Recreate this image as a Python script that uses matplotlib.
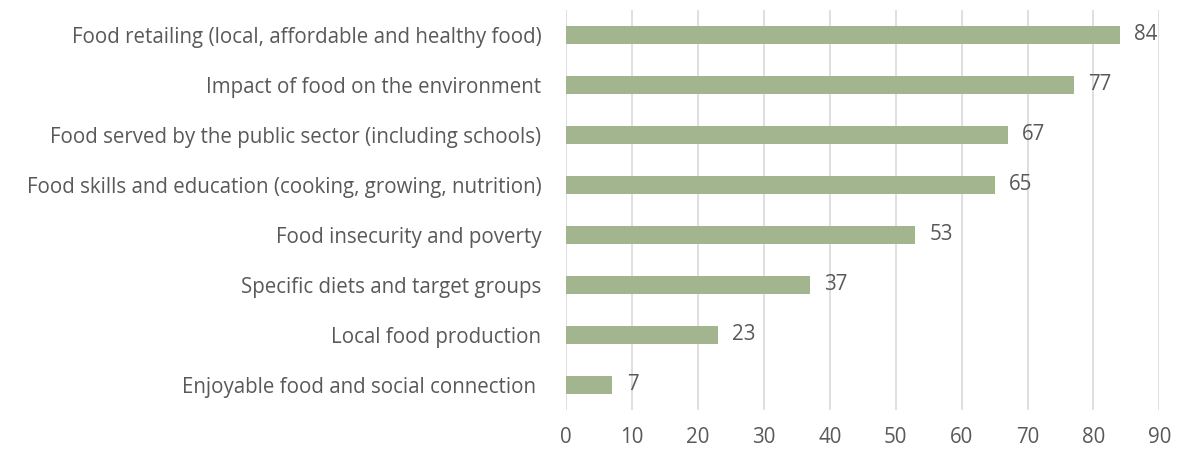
import matplotlib
matplotlib.use("Agg")
import matplotlib.pyplot as plt

categories = [
    "Food retailing (local, affordable and healthy food)",
    "Impact of food on the environment",
    "Food served by the public sector (including schools)",
    "Food skills and education (cooking, growing, nutrition)",
    "Food insecurity and poverty",
    "Specific diets and target groups",
    "Local food production",
    "Enjoyable food and social connection ",
]
values = [84, 77, 67, 65, 53, 37, 23, 7]
xticks = [0, 10, 20, 30, 40, 50, 60, 70, 80, 90]

plt.rcParams['font.family'] = ['Open Sans', 'DejaVu Sans']
text_color = "#595959"
fs = 14.8

fig = plt.figure(figsize=(11.77, 4.5), dpi=100)
ax = fig.add_axes([0.481, 0.089, 0.504, 0.889])

y = list(range(len(categories)))[::-1]
ax.barh(y, values, height=0.36, color="#a3b58e", zorder=3)
for yi, v in zip(y, values):
    ax.text(v + 2.2, yi, str(v), va="center", ha="left", fontsize=fs, color=text_color, zorder=4)

ax.set_xlim(0, 90)
ax.set_ylim(-0.5, len(categories) - 0.5)
ax.set_xticks(xticks)
ax.set_xticklabels([str(t) for t in xticks], fontsize=fs, color=text_color)
ax.set_yticks(y)
ax.set_yticklabels(categories, fontsize=fs, color=text_color)
ax.tick_params(axis="both", length=0)
ax.tick_params(axis="y", pad=18)
ax.tick_params(axis="x", pad=12)
ax.grid(axis="x", color="#d9d9d9", linewidth=1.2, zorder=0)
for s in ax.spines.values():
    s.set_visible(False)

fig.savefig("out.png", dpi=100)
